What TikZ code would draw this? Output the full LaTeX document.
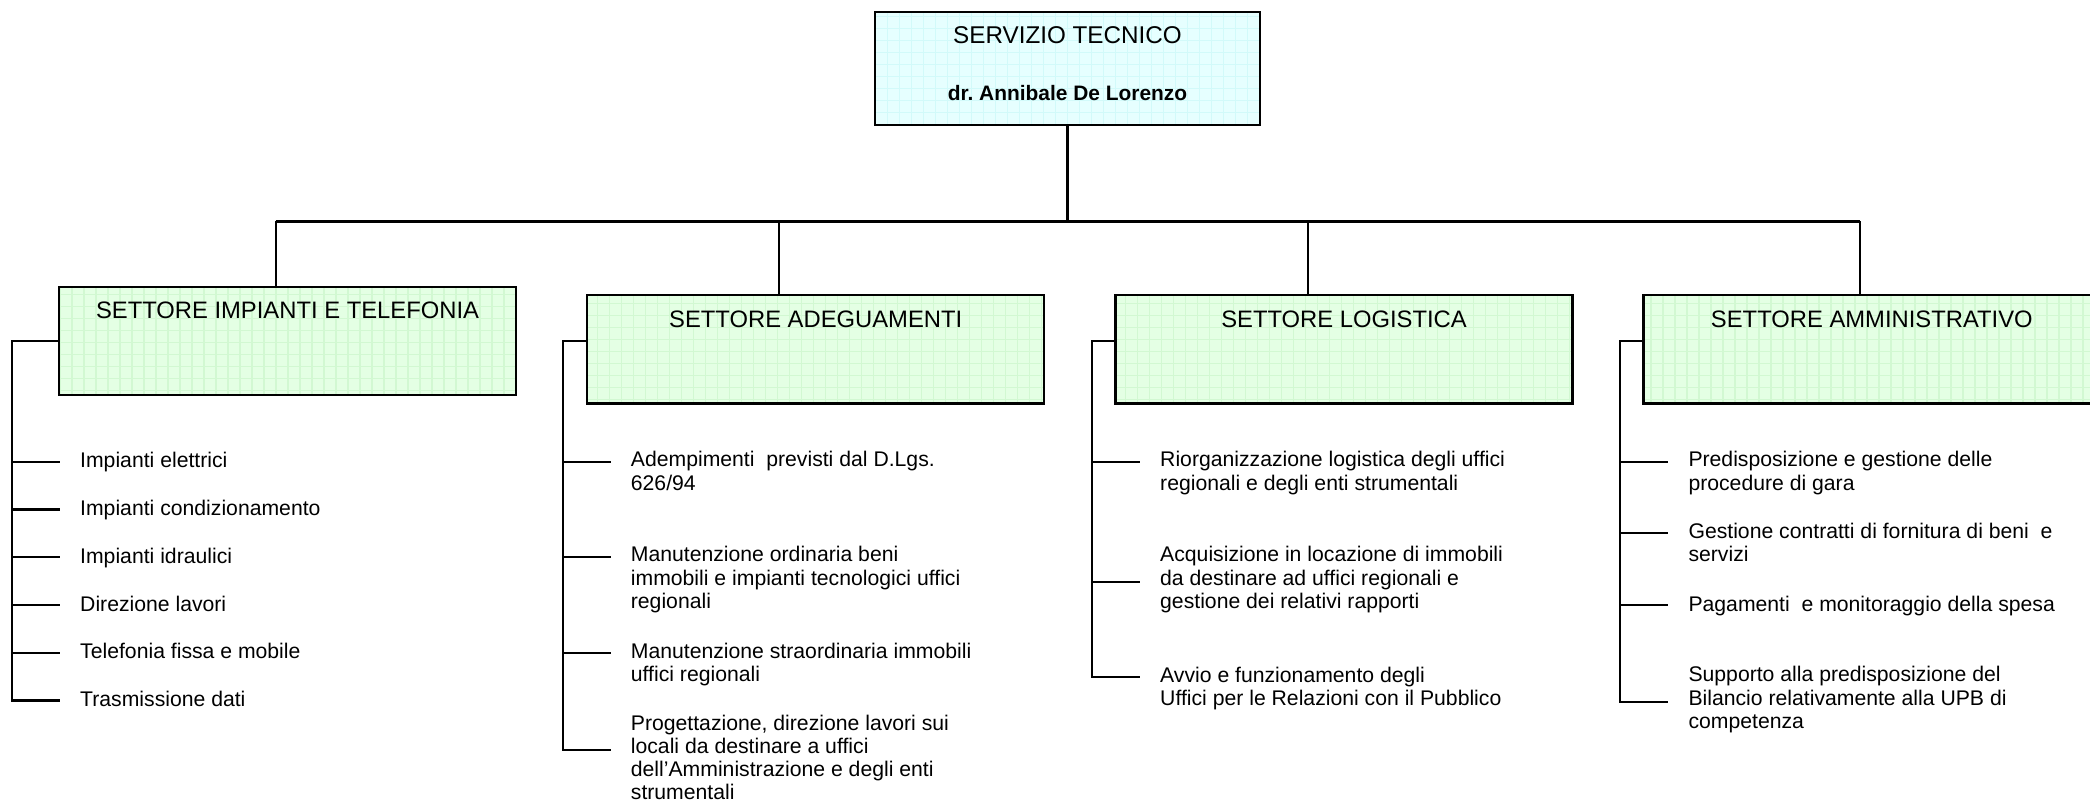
\documentclass[tikz,border=0pt]{standalone}
\usepackage{fontspec}
\setmainfont{Liberation Sans}
\usepackage{xcolor}
\definecolor{servCyan}{RGB}{230,255,255}
\definecolor{servGrid}{RGB}{210,250,250}
\definecolor{setGreen}{RGB}{228,255,228}
\definecolor{setGrid}{RGB}{210,248,210}
\newcommand{\itemfont}{\fontsize{6.03pt}{6.63pt}\selectfont}
\newcommand{\secfont}{\fontsize{6.77pt}{7.6pt}\selectfont}
\newcommand{\headfont}{\fontsize{6.9pt}{16pt}\selectfont}

\begin{document}
\begin{tikzpicture}[
    x=0.1mm, y=-0.1mm,
    head/.style={rectangle, draw, line width=0.7pt, fill=servCyan, minimum width=38.5mm, minimum height=11.3mm, align=center, font=\headfont,
        path picture={\draw[servGrid, line width=0.3pt, step=1.2mm] (path picture bounding box.south west) grid (path picture bounding box.north east);}},
    sector/.style={rectangle, draw, line width=0.7pt, fill=setGreen, anchor=north, minimum width=45.7mm, font=\secfont,
        text height=1.7mm, text depth=6.13mm, inner ysep=1.5mm,
        path picture={\draw[setGrid, line width=0.3pt, step=1.2mm] (path picture bounding box.south west) grid (path picture bounding box.north east);}},
    item/.style={anchor=north west, align=left, font=\itemfont, inner xsep=1.95mm, inner ysep=0pt, execute at begin node=\strut},
    conn/.style={line width=0.6pt}
]
\useasboundingbox (0,0) rectangle (2090,806);

% Head of the service (top)
\node[head] (serv) at (1067.5,68.5) {SERVIZIO TECNICO\\{\fontsize{5.95pt}{16pt}\selectfont\bfseries dr.\ Annibale De Lorenzo\rule[-1mm]{0pt}{1mm}}};

% Sectors (second row)
\node[sector] (imp) at (287.5,285.7) {SETTORE IMPIANTI E TELEFONIA};
\node[sector] (adg) at (815.7,294) {SETTORE ADEGUAMENTI};
\node[sector] (log) at (1344,294) {SETTORE LOGISTICA};
\node[sector] (amm) at (1871.8,294) {SETTORE AMMINISTRATIVO};

% Bar joints
\coordinate (d1) at (275.7,221.5);
\coordinate (d2) at (779.3,221.5);
\coordinate (d3) at (1307.7,221.5);
\coordinate (d4) at (1860,221.5);

% Spine joints
\coordinate (t10) at (11.7,341);
\coordinate (t11) at (11.7,462);
\coordinate (t12) at (11.7,509.5);
\coordinate (t13) at (11.7,557);
\coordinate (t14) at (11.7,605);
\coordinate (t15) at (11.7,653);
\coordinate (t16) at (11.7,700.5);
\coordinate (t20) at (563.3,341);
\coordinate (t21) at (563.3,461.7);
\coordinate (t22) at (563.3,556.7);
\coordinate (t23) at (563.3,653.3);
\coordinate (t24) at (563.3,750);
\coordinate (t30) at (1091.7,341);
\coordinate (t31) at (1091.7,461.7);
\coordinate (t32) at (1091.7,581.7);
\coordinate (t33) at (1091.7,677.3);
\coordinate (t40) at (1620,341);
\coordinate (t41) at (1620,461.7);
\coordinate (t42) at (1620,533.3);
\coordinate (t43) at (1620,605);
\coordinate (t44) at (1620,701.7);

% Tasks - Impianti e telefonia
\node[item] (i11) at (60,451) {Impianti elettrici};
\node[item] (i12) at (60,498.5) {Impianti condizionamento};
\node[item] (i13) at (60,546) {Impianti idraulici};
\node[item] (i14) at (60,594) {Direzione lavori};
\node[item] (i15) at (60,642) {Telefonia fissa e mobile};
\node[item] (i16) at (60,689.5) {Trasmissione dati};

% Tasks - Adeguamenti
\node[item] (i21) at (610.7,450.7) {Adempimenti~ previsti dal D.Lgs.\\626/94};
\node[item] (i22) at (610.7,545.7) {Manutenzione ordinaria beni\\immobili e impianti tecnologici uffici\\regionali};
\node[item] (i23) at (610.7,642.3) {Manutenzione straordinaria immobili\\uffici regionali};
\node[item] (i24) at (610.7,714) {Progettazione, direzione lavori sui\\locali da destinare a uffici\\dell’Amministrazione e degli enti\\strumentali};

% Tasks - Logistica
\node[item] (i31) at (1140,450.7) {Riorganizzazione logistica degli uffici\\regionali e degli enti strumentali};
\node[item] (i32) at (1140,545.7) {Acquisizione in locazione di immobili\\da destinare ad uffici regionali e\\gestione dei relativi rapporti};
\node[item] (i33) at (1140,666.3) {Avvio e funzionamento degli\\Uffici per le Relazioni con il Pubblico};

% Tasks - Amministrativo
\node[item] (i41) at (1668.3,450.7) {Predisposizione e gestione delle\\procedure di gara};
\node[item] (i42) at (1668.3,522.3) {Gestione contratti di fornitura di beni~ e\\servizi};
\node[item] (i43) at (1668.3,594) {Pagamenti~ e monitoraggio della spesa};
\node[item] (i44) at (1668.3,665.7) {Supporto alla predisposizione del\\Bilancio relativamente alla UPB di\\competenza};

% Service to sectors
\draw[conn] (serv.south) -- (serv.south |- d1);
\draw[conn] (d1) -- (d4);
\draw[conn] (d1) -- (d1 |- imp.north);
\draw[conn] (d2) -- (d2 |- adg.north);
\draw[conn] (d3) -- (d3 |- log.north);
\draw[conn] (d4) -- (d4 |- amm.north);

% Sectors to tasks
\draw[conn] (imp.west |- t10) -- (t10) -- (t16) -- (t16 -| i16.west);
\draw[conn] (t11) -- (t11 -| i11.west);
\draw[conn] (t12) -- (t12 -| i12.west);
\draw[conn] (t13) -- (t13 -| i13.west);
\draw[conn] (t14) -- (t14 -| i14.west);
\draw[conn] (t15) -- (t15 -| i15.west);

\draw[conn] (adg.west |- t20) -- (t20) -- (t24) -- (t24 -| i24.west);
\draw[conn] (t21) -- (t21 -| i21.west);
\draw[conn] (t22) -- (t22 -| i22.west);
\draw[conn] (t23) -- (t23 -| i23.west);

\draw[conn] (log.west |- t30) -- (t30) -- (t33) -- (t33 -| i33.west);
\draw[conn] (t31) -- (t31 -| i31.west);
\draw[conn] (t32) -- (t32 -| i32.west);

\draw[conn] (amm.west |- t40) -- (t40) -- (t44) -- (t44 -| i44.west);
\draw[conn] (t41) -- (t41 -| i41.west);
\draw[conn] (t42) -- (t42 -| i42.west);
\draw[conn] (t43) -- (t43 -| i43.west);

\end{tikzpicture}
\end{document}
